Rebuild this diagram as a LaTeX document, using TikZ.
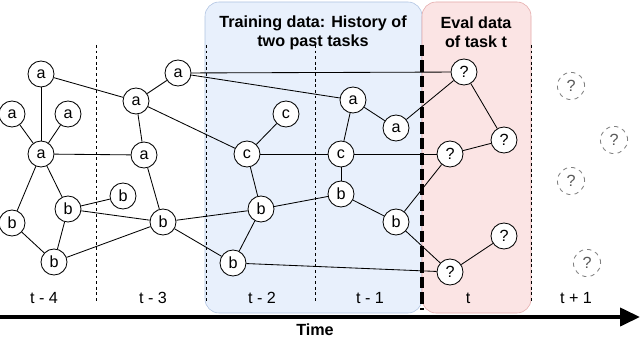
\documentclass[tikz,border=0pt]{standalone}
\usepackage{fontspec}
\setmainfont{Liberation Sans}
\usetikzlibrary{arrows.meta}

\definecolor{trainfill}{RGB}{232,240,252}
\definecolor{traindraw}{RGB}{175,195,225}
\definecolor{evalfill}{RGB}{251,228,228}
\definecolor{evaldraw}{RGB}{228,170,170}

\begin{document}
\begin{tikzpicture}[x=0.25mm, y=-0.25mm, font=\fontsize{11.5}{13.5}\selectfont,
    vertex/.style={circle, draw, fill=white, minimum size=6.5mm, inner sep=0pt, line width=0.6pt},
    future/.style={circle, draw=gray, dashed, fill=white, minimum size=6.8mm, inner sep=0pt, line width=0.6pt, text=gray!70!black},
    edge/.style={line width=0.6pt},
    sep/.style={dash pattern=on 2pt off 2pt, line width=0.6pt},
    title/.style={font=\fontsize{11.5}{13.5}\selectfont\bfseries, align=center}]
    \useasboundingbox (0,0) rectangle (640,339);

    % Highlight the training and eval windows
    \draw[fill=trainfill, draw=traindraw, rounded corners=10pt] (205,2) rectangle (422,313);
    \draw[fill=evalfill, draw=evaldraw, rounded corners=10pt] (422,2) rectangle (531,313);
    \node[title] (train) at (313,32.5) {Training data: History of\\two past tasks};
    \node[title] (eval) at (476,32.5) {Eval data\\of task t};

    % Time step separators
    \foreach \x in {96,206,315,531} {
        \draw[sep] (\x,45) -- (\x,303);
    }
    \draw[line width=2.6pt, dash pattern=on 8pt off 3pt] (422,45) -- (422,310);

    % Time step labels
    \foreach \x/\t in {44/t - 4, 153/t - 3, 262/t - 2, 370/t - 1, 468/t, 576/t + 1} {
        \node at (\x,298) {\t};
    }

    % Define time axis
    \coordinate (start) at (0,317);
    \coordinate (end) at (640,317);
    \draw[line width=2.8pt, -{Triangle[length=5mm,width=4.5mm]}] (start) -- (end);
    \node[font=\fontsize{11.5}{13.5}\selectfont\bfseries] (time) at (315,330) {Time};

    % Graph at t-4 and t-3
    \node[vertex] (a1) at (41,74) {a};
    \node[vertex] (a2) at (12,114) {a};
    \node[vertex] (a3) at (68,114) {a};
    \node[vertex] (a4) at (41,154) {a};
    \node[vertex] (b1) at (12,223) {b};
    \node[vertex] (b2) at (68,209) {b};
    \node[vertex] (b3) at (123,196) {b};
    \node[vertex] (b4) at (54,262) {b};
    \node[vertex] (a5) at (136,101) {a};
    \node[vertex] (a6) at (178,73) {a};
    \node[vertex] (a7) at (144,155) {a};
    \node[vertex] (b5) at (163,222) {b};

    % Graph at t-2 and t-1
    \node[vertex] (c1) at (286,114) {c};
    \node[vertex] (c2) at (247,154) {c};
    \node[vertex] (b6) at (261,209) {b};
    \node[vertex] (b7) at (233,263) {b};
    \node[vertex] (a8) at (353,100) {a};
    \node[vertex] (a9) at (396,128) {a};
    \node[vertex] (c3) at (341,154) {c};
    \node[vertex] (b8) at (341,194) {b};
    \node[vertex] (b9) at (396,222) {b};

    % Unknown labels at t
    \node[vertex] (q1) at (464,72) {?};
    \node[vertex] (q2) at (504,140) {?};
    \node[vertex] (q3) at (450,154) {?};
    \node[vertex] (q4) at (504,236) {?};
    \node[vertex] (q5) at (450,272) {?};

    % Future nodes at t+1
    \node[future] (f1) at (571,86) {?};
    \node[future] (f2) at (614,140) {?};
    \node[future] (f3) at (571,181) {?};
    \node[future] (f4) at (587,263) {?};

    % Edges
    \foreach \u/\v in {a1/a4, a2/a4, a3/a4, a4/a7, a4/b1, a4/b2, b1/b4, b2/b4, b2/b3,
        b2/b5, b4/b5, a1/a5, a5/a6, a5/a7, a5/c2, a7/b5, b5/b6, b5/b7, a6/q1, a6/a8,
        c2/c1, c2/c3, c2/b6, b6/b7, b6/b8, b7/q5, a8/a9, a8/c3, c3/b8, c3/q3, b8/b9,
        a9/q1, b9/q3, b9/q5, q1/q2, q3/q2, q5/q4} {
        \draw[edge] (\u) -- (\v);
    }

\end{tikzpicture}
\end{document}
